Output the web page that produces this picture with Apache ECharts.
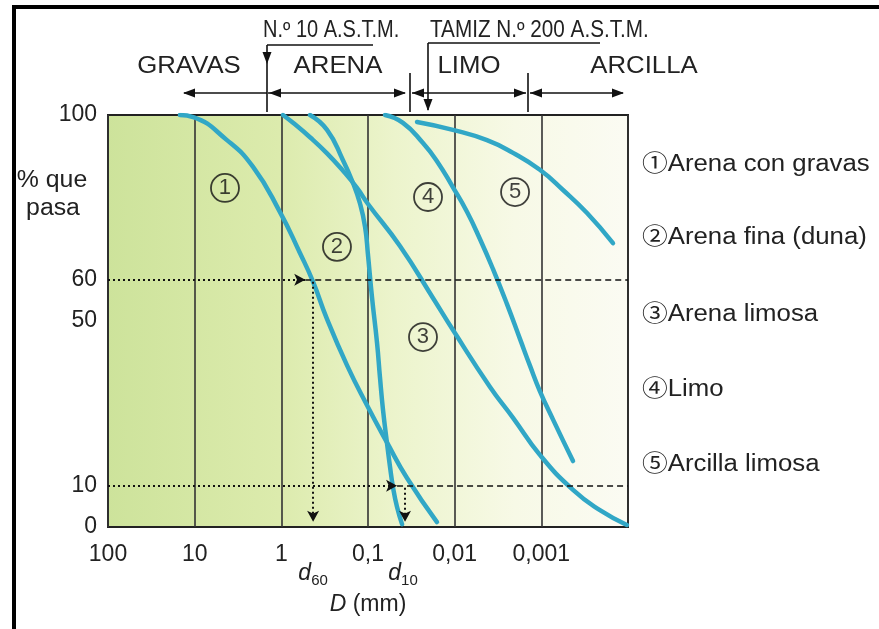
<!DOCTYPE html>
<html>
<head>
<meta charset="utf-8">
<script src="https://cdn.jsdelivr.net/npm/echarts@6/dist/echarts.min.js"></script>
<style>
html,body{margin:0;padding:0;background:#fff;}
#main{width:879px;height:629px;}
</style>
</head>
<body>
<div id="main"></div>
<script>
// ---- data (D in mm, P = % que pasa) ----
const xTickLabels = ['100', '10', '1', '0,1', '0,01', '0,001'];
const yTickValues = [0, 10, 50, 60, 100];

const curve1D = [14.8, 10.4, 4.24, 2.12, 1.04, 0.61, 0.43, 0.30, 0.175, 0.103, 0.060, 0.0355, 0.016];
const curve1P = [100, 99.5, 93.9, 87.4, 76.5, 66.5, 59.5, 50.7, 39.3, 29.6, 20.4, 11.9, 1.2];

const curve2D = [0.467, 0.297, 0.195, 0.149, 0.124, 0.108, 0.100, 0.090, 0.0787, 0.0728, 0.0671, 0.0604, 0.0557, 0.0515, 0.0463, 0.0405];
const curve2P = [100, 96.4, 89.1, 83.5, 78.6, 72.8, 66.0, 55.8, 44.7, 36.4, 28.4, 20.4, 14.6, 9.7, 4.9, 0.7];

const curve3D = [0.957, 0.733, 0.467, 0.297, 0.195, 0.134, 0.100, 0.0428, 0.0178, 0.01045, 0.00391, 0.00212, 0.00104, 0.000431, 0.000211, 0.000103];
const curve3P = [100, 98.1, 94.6, 90.7, 86.5, 82.3, 78.4, 68.2, 55.6, 47.8, 34.0, 26.5, 17.5, 9.0, 4.1, 0.5];

const curve4D = [0.0637, 0.0395, 0.0232, 0.0160, 0.0105, 0.00721, 0.00511, 0.00361, 0.00249, 0.00176, 0.00135, 0.00104, 0.00073, 0.000431];
const curve4P = [100, 98.1, 93.2, 88.8, 82.5, 76.5, 69.9, 62.6, 54.1, 45.6, 39.1, 33.0, 26.0, 16.0];

const curve5D = [0.0272, 0.0105, 0.00424, 0.00212, 0.00104, 0.000562, 0.000297, 0.000149];
const curve5P = [98.3, 96.4, 93.9, 90.8, 86.7, 81.8, 76.2, 68.9];

const circleD = [4.47, 0.228, 0.0232, 0.0203, 0.00201];
const circleP = [82.3, 68.0, 46.1, 80.1, 81.3];
const circleText = ['1', '2', '3', '4', '5'];

const legendTexts = ['①Arena con gravas', '②Arena fina (duna)', '③Arena limosa', '④Limo', '⑤Arcilla limosa'];

const d60 = 0.43, d60Arrow = 0.53;
const d10 = 0.0374, d10Arrow = 0.0462;

// ---- chart ----
const chart = echarts.init(document.getElementById('main'), null, {renderer: 'canvas'});
const FONT = "'Liberation Sans', Arial, 'Noto Sans CJK SC', sans-serif";
const BLUE = '#31a7c6';

function pairs(xs, ys) { return xs.map((x, i) => [x, ys[i]]); }

function curve(name, xs, ys) {
  return {
    name, type: 'line', data: pairs(xs, ys), smooth: 0.5, showSymbol: false,
    lineStyle: {color: BLUE, width: 4.5, cap: 'round'}, silent: true, z: 3
  };
}

const dot = {type: [2, 3], width: 2, color: '#111'};
const dash = {type: [6, 4], width: 1.5, color: '#111'};

function ml(a, b, style, arrow) {
  return [
    {coord: a, symbol: 'none', lineStyle: style},
    {coord: b, symbol: arrow ? 'arrow' : 'none', symbolSize: [9, 11]}
  ];
}

const option = {
  backgroundColor: '#ffffff',
  animation: false,
  grid: {
    left: 108, top: 115, right: 251, bottom: 102, show: true,
    borderColor: '#222', borderWidth: 2,
    backgroundColor: {
      type: 'linear', x: 0, y: 0, x2: 1, y2: 0,
      colorStops: [
        {offset: 0, color: '#cde39b'},
        {offset: 0.33, color: '#dcebad'},
        {offset: 0.55, color: '#ecf4cc'},
        {offset: 0.78, color: '#f7f9e6'},
        {offset: 1, color: '#fbfbf3'}
      ]
    }
  },
  xAxis: {
    type: 'log', logBase: 10, min: 0.0001, max: 100, inverse: true,
    axisLine: {show: false}, axisTick: {show: false},
    splitLine: {show: true, lineStyle: {color: '#333', width: 1.6}},
    axisLabel: {
      fontFamily: FONT, fontSize: 23, color: '#222', margin: 16,
      formatter: function (v) {
        const e = Math.round(Math.log10(v));
        const i = 2 - e;
        return (i >= 0 && i < xTickLabels.length) ? xTickLabels[i] : '';
      }
    }
  },
  yAxis: {
    type: 'value', min: 0, max: 100,
    axisLine: {show: false}, axisTick: {show: false}, splitLine: {show: false},
    axisLabel: {fontFamily: FONT, fontSize: 23, color: '#222', margin: 11, customValues: yTickValues}
  },
  series: [
    curve('1', curve1D, curve1P),
    curve('2', curve2D, curve2P),
    curve('3', curve3D, curve3P),
    curve('4', curve4D, curve4P),
    curve('5', curve5D, curve5P),
    {
      type: 'scatter', data: pairs(circleD, circleP), symbol: 'circle', symbolSize: 28, silent: true, z: 5,
      itemStyle: {color: 'rgba(0,0,0,0)', borderColor: '#111', borderWidth: 1.8},
      label: {show: true, position: 'inside', fontFamily: FONT, fontSize: 22, color: '#111',
        formatter: p => circleText[p.dataIndex]}
    },
    {
      type: 'line', data: [], silent: true, z: 2,
      markLine: {
        silent: true, animation: false, label: {show: false},
        data: [
          ml([100, 60], [d60Arrow, 60], dot, true),
          ml([d60Arrow, 60], [0.0001, 60], dash, false),
          ml([d60, 59.5], [d60, 1.3], dot, true),
          ml([100, 10], [d10Arrow, 10], dot, true),
          ml([d10Arrow, 10], [0.0001, 10], dash, false),
          ml([d10, 9.5], [d10, 1.3], dot, true)
        ]
      }
    }
  ]
};
chart.setOption(option);

// ---- annotations ----
const L = {stroke: '#111', lineWidth: 1.6};
function line(x1, y1, x2, y2) { return {type: 'line', shape: {x1, y1, x2, y2}, style: L, silent: true}; }
function tri(pts) { return {type: 'polygon', shape: {points: pts}, style: {fill: '#111'}, silent: true}; }
function leftArrow(x, y) { return tri([[x, y], [x + 12, y - 4.5], [x + 12, y + 4.5]]); }
function rightArrow(x, y) { return tri([[x, y], [x - 12, y - 4.5], [x - 12, y + 4.5]]); }
function downArrow(x, y) { return tri([[x, y], [x - 4.5, y - 12], [x + 4.5, y - 12]]); }
function txt(text, x, y, align, size, sx) {
  return {type: 'text', x, y, scaleX: sx || 1, silent: true,
    style: {text, fill: '#222', font: size + 'px ' + FONT, textAlign: align, textVerticalAlign: 'middle'}};
}

const px60 = chart.convertToPixel({xAxisIndex: 0}, d60);
const px10 = chart.convertToPixel({xAxisIndex: 0}, d10);

const g = [
  // frame of the figure
  {type: 'line', shape: {x1: 12, y1: 7, x2: 879, y2: 7}, style: {stroke: '#000', lineWidth: 4}, silent: true},
  {type: 'line', shape: {x1: 14, y1: 5, x2: 14, y2: 629}, style: {stroke: '#000', lineWidth: 4}, silent: true},
  // top labels
  txt('N.º 10 A.S.T.M.', 263, 31, 'left', 23, 0.87),
  txt('TAMIZ N.º 200 A.S.T.M.', 430, 31, 'left', 23, 0.9),
  txt('GRAVAS', 189, 67, 'center', 23, 1.12),
  txt('ARENA', 338, 67, 'center', 23, 1.12),
  txt('LIMO', 469, 67, 'center', 23, 1.12),
  txt('ARCILLA', 644, 67, 'center', 23, 1.12),
  // bracket N.º 10
  line(267, 45, 373, 45), line(267, 45, 267, 112), downArrow(267, 64),
  // bracket N.º 200
  line(428, 43, 600, 43), line(428, 43, 428, 110), downArrow(428, 111),
  // arrows row
  line(184, 93, 267, 93), leftArrow(183, 93),
  line(268, 93, 405, 93), leftArrow(269, 93), rightArrow(406, 93),
  line(410, 73, 410, 112),
  line(412, 93, 526, 93), leftArrow(412, 93), rightArrow(526, 93),
  line(528, 73, 528, 112),
  line(530, 93, 623, 93), leftArrow(530, 93), rightArrow(624, 93),
  // y title
  txt('% que', 52, 181, 'center', 23, 1.08),
  txt('pasa', 53, 209, 'center', 23, 1.08),
  // x title and d labels
  {type: 'text', x: px60, y: 574, silent: true, style: {
    text: '{i|d}{s|60}', textAlign: 'center', textVerticalAlign: 'middle',
    rich: {i: {font: 'italic 23px ' + FONT, fill: '#222'}, s: {font: '15px ' + FONT, fill: '#222', padding: [14, 0, 0, 0]}}}},
  {type: 'text', x: px10 - 2, y: 574, silent: true, style: {
    text: '{i|d}{s|10}', textAlign: 'center', textVerticalAlign: 'middle',
    rich: {i: {font: 'italic 23px ' + FONT, fill: '#222'}, s: {font: '15px ' + FONT, fill: '#222', padding: [14, 0, 0, 0]}}}},
  {type: 'text', x: 368, y: 605, silent: true, style: {
    text: '{i|D}{n| (mm)}', textAlign: 'center', textVerticalAlign: 'middle',
    rich: {i: {font: 'italic 23px ' + FONT, fill: '#222'}, n: {font: '23px ' + FONT, fill: '#222'}}}}
];
const legendY = [165, 238, 315, 390, 465];
legendTexts.forEach((t, i) => g.push(txt(t, 642, legendY[i], 'left', 23, 1.12)));
chart.setOption({graphic: g});
</script>
</body>
</html>
